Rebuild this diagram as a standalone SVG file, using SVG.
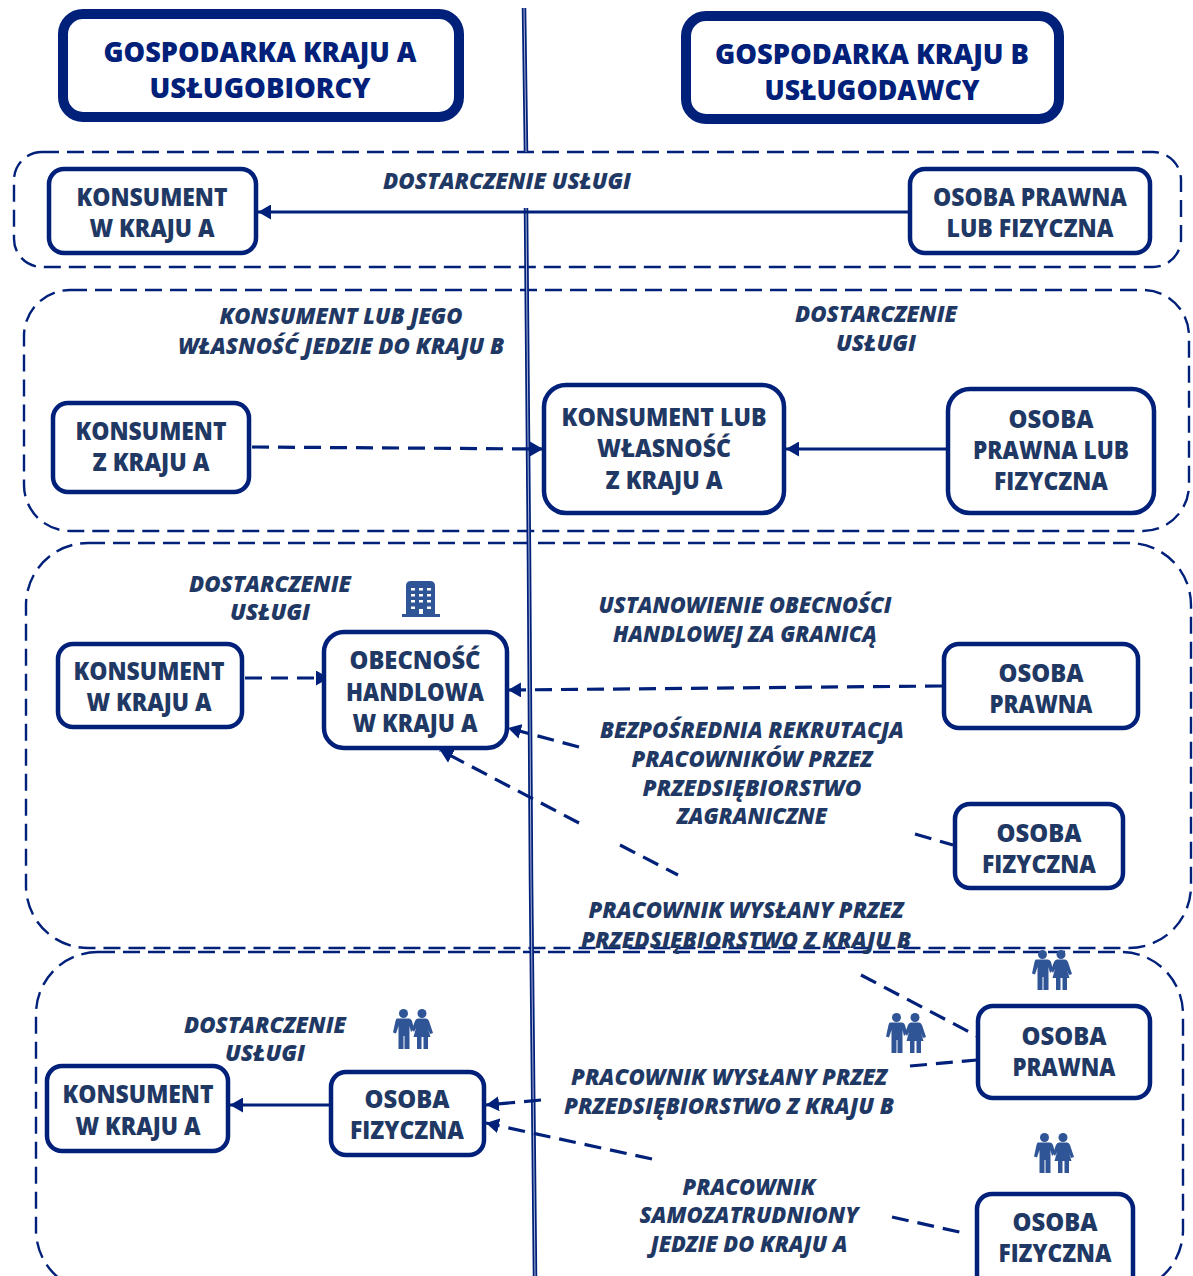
<svg xmlns="http://www.w3.org/2000/svg" width="1193" height="1276" viewBox="0 0 1193 1276">
<style>
text{font-family:"Open Sans","Noto Sans","Liberation Sans",sans-serif;font-weight:800;text-anchor:middle;fill:#1f3864}
.h{font-size:28px;fill:#00207a}
.n{font-size:25px}
.l{font-size:23px;font-style:italic}
.box{fill:#fff;stroke:#00207a;stroke-width:4.5}
.hd{fill:#fff;stroke:#00207a;stroke-width:10}
.zone{fill:none;stroke:#00207a;stroke-width:2.4;stroke-dasharray:17 8}
.axis{fill:none;stroke:#00207a;stroke-width:4.5}
.core{fill:none;stroke:#a9b6d8;stroke-width:1}
.s{fill:none;stroke:#00207a;stroke-width:3}
.d{fill:none;stroke:#00207a;stroke-width:3.2;stroke-dasharray:17 9}
.ico{fill:#2f5597}
</style>
<defs>
<marker id="a" markerUnits="userSpaceOnUse" markerWidth="13" markerHeight="15" refX="13" refY="7.500" orient="auto"><path d="M0 0L13 7.500L0 15Z" fill="#00207a"/></marker>
<symbol id="people" viewBox="0 0 40 40" overflow="visible">
<circle cx="10.500" cy="4.500" r="4.500"/><circle cx="29" cy="4.500" r="4.500"/>
<path d="M4 9.500H16Q18 9.500 19 12L21 20L18 23L16.500 17V40H11.500V27H10.500V40H5.500V17L3 24.500L0 23.500L2.500 12Q3 9.500 4 9.500Z"/>
<path d="M25 9.500H33Q35 9.500 36 12L40 24L37 25L35 20L37.500 28H35V40H30.500V28H28.500V40H24V28H20.500L23 19L21 23L19 20L22 12Q23 9.500 25 9.500Z"/>
</symbol>
<symbol id="bldg" viewBox="0 0 38 36" overflow="visible">
<path fill-rule="evenodd" d="M4 5Q4 0 9 0H28Q33 0 33 5V33H38V36H0V33H4ZM9 7V9.500H13V7ZM17 7V9.500H21V7ZM25 7V9.500H29V7ZM9 13V15.500H13V13ZM17 13V15.500H21V13ZM25 13V15.500H29V13ZM9 19V21.500H13V19ZM17 19V21.500H21V19ZM25 19V21.500H29V19ZM9 25.500V28H13V25.500ZM25 25.500V28H29V25.500ZM17 28V33H21V28Z"/>
</symbol>
</defs>

<g id="zones">
<rect class="zone" x="14" y="152" width="1167" height="115" rx="28"/>
<rect class="zone" x="24" y="290" width="1165" height="241" rx="46"/>
<rect class="zone" x="26" y="543" width="1165" height="405" rx="62"/>
<rect class="zone" x="36" y="952" width="1147" height="340" rx="62"/>
</g>

<g id="connectors">
<path class="axis" d="M524 8L526 152M526 208L529 560L531 880L535 1276"/>
<path class="core" d="M524 8L526 152M526 208L529 560L531 880L535 1276"/>
<path class="s" d="M908 212H258" marker-end="url(#a)"/>
<path class="d" d="M252 447L543 449" marker-end="url(#a)"/>
<path class="s" d="M947 449H786" marker-end="url(#a)"/>
<path class="d" d="M245 678H329" marker-end="url(#a)"/>
<path class="d" d="M942 686L508 690" marker-end="url(#a)"/>
<path class="d" d="M579 747L508 728" marker-end="url(#a)"/>
<path class="d" d="M579 823L440 750" marker-end="url(#a)"/>
<path class="d" d="M620 845L678 875"/>
<path class="d" d="M915 834L953 845"/>
<path class="d" d="M861 975L977 1036"/>
<path class="d" d="M910 1066L977 1060"/>
<path class="d" d="M541 1100L486 1105" marker-end="url(#a)"/>
<path class="d" d="M652 1159L486 1123" marker-end="url(#a)"/>
<path class="d" d="M892 1217L968 1234"/>
<path class="s" d="M330 1105H230" marker-end="url(#a)"/>
</g>

<g id="hdr-a"><rect class="hd" x="63" y="14" width="396" height="103" rx="20"/>
<text class="h" x="260" y="62" textLength="313" lengthAdjust="spacingAndGlyphs">GOSPODARKA KRAJU A</text>
<text class="h" x="260" y="98" textLength="221" lengthAdjust="spacingAndGlyphs">USŁUGOBIORCY</text></g>
<g id="hdr-b"><rect class="hd" x="686" y="16" width="373" height="103" rx="20"/>
<text class="h" x="872" y="64" textLength="314" lengthAdjust="spacingAndGlyphs">GOSPODARKA KRAJU B</text>
<text class="h" x="872" y="100" textLength="215" lengthAdjust="spacingAndGlyphs">USŁUGODAWCY</text></g>

<g id="n1"><rect class="box" x="49" y="169" width="207" height="84" rx="15"/>
<text class="n" x="152" y="206" textLength="151" lengthAdjust="spacingAndGlyphs">KONSUMENT</text>
<text class="n" x="152" y="237" textLength="125" lengthAdjust="spacingAndGlyphs">W KRAJU A</text></g>
<g id="n2"><rect class="box" x="910" y="169" width="240" height="84" rx="15"/>
<text class="n" x="1030" y="206" textLength="194" lengthAdjust="spacingAndGlyphs">OSOBA PRAWNA</text>
<text class="n" x="1030" y="237" textLength="167" lengthAdjust="spacingAndGlyphs">LUB FIZYCZNA</text></g>

<g id="n3"><rect class="box" x="53" y="403" width="196" height="89" rx="15"/>
<text class="n" x="151" y="440" textLength="151" lengthAdjust="spacingAndGlyphs">KONSUMENT</text>
<text class="n" x="151" y="471" textLength="117" lengthAdjust="spacingAndGlyphs">Z KRAJU A</text></g>
<g id="n4"><rect class="box" x="544" y="385" width="240" height="128" rx="22"/>
<text class="n" x="664" y="426" textLength="205" lengthAdjust="spacingAndGlyphs">KONSUMENT LUB</text>
<text class="n" x="664" y="457" textLength="134" lengthAdjust="spacingAndGlyphs">WŁASNOŚĆ</text>
<text class="n" x="664" y="489" textLength="117" lengthAdjust="spacingAndGlyphs">Z KRAJU A</text></g>
<g id="n5"><rect class="box" x="948" y="389" width="206" height="124" rx="22"/>
<text class="n" x="1051" y="428" textLength="85" lengthAdjust="spacingAndGlyphs">OSOBA</text>
<text class="n" x="1051" y="459" textLength="156" lengthAdjust="spacingAndGlyphs">PRAWNA LUB</text>
<text class="n" x="1051" y="490" textLength="114" lengthAdjust="spacingAndGlyphs">FIZYCZNA</text></g>

<g id="n6"><rect class="box" x="58" y="644" width="184" height="83" rx="15"/>
<text class="n" x="149" y="680" textLength="151" lengthAdjust="spacingAndGlyphs">KONSUMENT</text>
<text class="n" x="149" y="711" textLength="125" lengthAdjust="spacingAndGlyphs">W KRAJU A</text></g>
<g id="n7"><rect class="box" x="324" y="632" width="183" height="116" rx="20"/>
<text class="n" x="415" y="669" textLength="131" lengthAdjust="spacingAndGlyphs">OBECNOŚĆ</text>
<text class="n" x="415" y="701" textLength="138" lengthAdjust="spacingAndGlyphs">HANDLOWA</text>
<text class="n" x="415" y="732" textLength="125" lengthAdjust="spacingAndGlyphs">W KRAJU A</text></g>
<g id="n8"><rect class="box" x="944" y="644" width="194" height="84" rx="15"/>
<text class="n" x="1041" y="682" textLength="85" lengthAdjust="spacingAndGlyphs">OSOBA</text>
<text class="n" x="1041" y="713" textLength="103" lengthAdjust="spacingAndGlyphs">PRAWNA</text></g>
<g id="n9"><rect class="box" x="955" y="804" width="168" height="84" rx="15"/>
<text class="n" x="1039" y="842" textLength="85" lengthAdjust="spacingAndGlyphs">OSOBA</text>
<text class="n" x="1039" y="873" textLength="114" lengthAdjust="spacingAndGlyphs">FIZYCZNA</text></g>

<g id="n10"><rect class="box" x="978" y="1006" width="172" height="92" rx="15"/>
<text class="n" x="1064" y="1045" textLength="85" lengthAdjust="spacingAndGlyphs">OSOBA</text>
<text class="n" x="1064" y="1076" textLength="103" lengthAdjust="spacingAndGlyphs">PRAWNA</text></g>
<g id="n11"><rect class="box" x="47" y="1066" width="181" height="85" rx="15"/>
<text class="n" x="138" y="1103" textLength="151" lengthAdjust="spacingAndGlyphs">KONSUMENT</text>
<text class="n" x="138" y="1135" textLength="125" lengthAdjust="spacingAndGlyphs">W KRAJU A</text></g>
<g id="n12"><rect class="box" x="331" y="1072" width="153" height="83" rx="15"/>
<text class="n" x="407" y="1108" textLength="85" lengthAdjust="spacingAndGlyphs">OSOBA</text>
<text class="n" x="407" y="1139" textLength="114" lengthAdjust="spacingAndGlyphs">FIZYCZNA</text></g>
<g id="n13"><rect class="box" x="977" y="1194" width="156" height="100" rx="15"/>
<text class="n" x="1055" y="1231" textLength="85" lengthAdjust="spacingAndGlyphs">OSOBA</text>
<text class="n" x="1055" y="1262" textLength="113" lengthAdjust="spacingAndGlyphs">FIZYCZNA</text></g>

<g id="labels">
<text class="l" x="507" y="189" textLength="248" lengthAdjust="spacingAndGlyphs">DOSTARCZENIE USŁUGI</text>
<text class="l" x="341" y="324" textLength="243" lengthAdjust="spacingAndGlyphs">KONSUMENT LUB JEGO</text>
<text class="l" x="341" y="354" textLength="326" lengthAdjust="spacingAndGlyphs">WŁASNOŚĆ JEDZIE DO KRAJU B</text>
<text class="l" x="876" y="322" textLength="162" lengthAdjust="spacingAndGlyphs">DOSTARCZENIE</text>
<text class="l" x="876" y="351" textLength="80" lengthAdjust="spacingAndGlyphs">USŁUGI</text>
<text class="l" x="270" y="592" textLength="162" lengthAdjust="spacingAndGlyphs">DOSTARCZENIE</text>
<text class="l" x="270" y="620" textLength="80" lengthAdjust="spacingAndGlyphs">USŁUGI</text>
<text class="l" x="745" y="613" textLength="293" lengthAdjust="spacingAndGlyphs">USTANOWIENIE OBECNOŚCI</text>
<text class="l" x="745" y="642" textLength="264" lengthAdjust="spacingAndGlyphs">HANDLOWEJ ZA GRANICĄ</text>
<text class="l" x="752" y="738" textLength="304" lengthAdjust="spacingAndGlyphs">BEZPOŚREDNIA REKRUTACJA</text>
<text class="l" x="752" y="767" textLength="241" lengthAdjust="spacingAndGlyphs">PRACOWNIKÓW PRZEZ</text>
<text class="l" x="752" y="796" textLength="219" lengthAdjust="spacingAndGlyphs">PRZEDSIĘBIORSTWO</text>
<text class="l" x="752" y="824" textLength="150" lengthAdjust="spacingAndGlyphs">ZAGRANICZNE</text>
<text class="l" x="746" y="918" textLength="315" lengthAdjust="spacingAndGlyphs">PRACOWNIK WYSŁANY PRZEZ</text>
<text class="l" x="746" y="948" textLength="330" lengthAdjust="spacingAndGlyphs">PRZEDSIĘBIORSTWO Z KRAJU B</text>
<text class="l" x="265" y="1033" textLength="162" lengthAdjust="spacingAndGlyphs">DOSTARCZENIE</text>
<text class="l" x="265" y="1061" textLength="80" lengthAdjust="spacingAndGlyphs">USŁUGI</text>
<text class="l" x="729" y="1085" textLength="316" lengthAdjust="spacingAndGlyphs">PRACOWNIK WYSŁANY PRZEZ</text>
<text class="l" x="729" y="1114" textLength="330" lengthAdjust="spacingAndGlyphs">PRZEDSIĘBIORSTWO Z KRAJU B</text>
<text class="l" x="749" y="1195" textLength="133" lengthAdjust="spacingAndGlyphs">PRACOWNIK</text>
<text class="l" x="749" y="1223" textLength="219" lengthAdjust="spacingAndGlyphs">SAMOZATRUDNIONY</text>
<text class="l" x="749" y="1252" textLength="197" lengthAdjust="spacingAndGlyphs">JEDZIE DO KRAJU A</text>
</g>

<g id="icons" class="ico">
<use href="#bldg" x="402" y="581" width="38" height="36"/>
<use href="#people" x="1032" y="950" width="40" height="40"/>
<use href="#people" x="886" y="1013" width="40" height="40"/>
<use href="#people" x="1034" y="1133" width="40" height="40"/>
<use href="#people" x="393" y="1009" width="40" height="40"/>
</g>
</svg>
